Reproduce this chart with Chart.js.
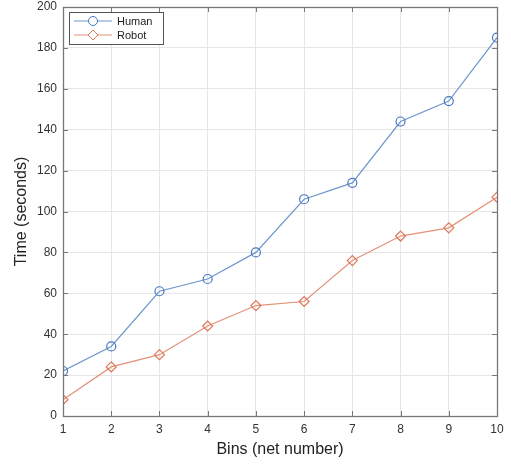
<!DOCTYPE html>
<html lang="en">
<head>
    <meta charset="UTF-8">
    <title>Human vs Robot time per bin</title>
    <script src="https://cdn.jsdelivr.net/npm/chart.js"></script>
    <style>
        body { margin: 0; background: #fff; }
        #wrap { width: 511px; height: 467px; }
    </style>
</head>
<body>
<div id="wrap"><canvas id="binsChart" width="511" height="467"></canvas></div>
<script>
    // data
    const bins = [1, 2, 3, 4, 5, 6, 7, 8, 9, 10];
    const humanTime = [22, 34, 61, 67, 80, 106, 114, 144, 154, 185];
    const robotTime = [8, 24, 30, 44, 54, 56, 76, 88, 92, 107];

    const blueLine = 'rgb(110, 150, 205)';
    const blueMark = 'rgb(70, 120, 195)';
    const orangeLine = 'rgb(228, 145, 120)';
    const orangeMark = 'rgb(222, 120, 90)';
    const axisColor = '#777';
    const font = '"Liberation Sans", Arial, sans-serif';

    // box round the axes, inward ticks and a MATLAB-style legend
    const matlabAxes = {
        id: 'matlabAxes',
        afterDraw(chart) {
            const { ctx, chartArea: a, scales: { x, y } } = chart;
            ctx.save();
            ctx.strokeStyle = axisColor;
            ctx.lineWidth = 1.3;
            ctx.strokeRect(a.left + 0.5, a.top + 0.5, a.right - a.left, a.bottom - a.top);
            const t = 5;
            ctx.lineWidth = 1;
            ctx.beginPath();
            x.ticks.forEach(tk => {
                const px = Math.round(x.getPixelForValue(tk.value)) + 0.5;
                ctx.moveTo(px, a.bottom); ctx.lineTo(px, a.bottom - t);
                ctx.moveTo(px, a.top); ctx.lineTo(px, a.top + t);
            });
            y.ticks.forEach(tk => {
                const py = Math.round(y.getPixelForValue(tk.value)) + 0.5;
                ctx.moveTo(a.left, py); ctx.lineTo(a.left + t, py);
                ctx.moveTo(a.right, py); ctx.lineTo(a.right - t, py);
            });
            ctx.stroke();

            // legend
            const lx = a.left + 6, ly = a.top + 5, lw = 94, lh = 32;
            ctx.fillStyle = '#fff';
            ctx.fillRect(lx, ly, lw, lh);
            ctx.strokeStyle = '#555';
            ctx.strokeRect(lx + 0.5, ly + 0.5, lw, lh);
            ctx.font = '11px ' + font;
            ctx.textBaseline = 'middle';
            chart.data.datasets.forEach((ds, i) => {
                const cy = ly + 9 + i * 14;
                ctx.strokeStyle = ds.borderColor;
                ctx.lineWidth = 1;
                ctx.beginPath();
                ctx.moveTo(lx + 5, cy); ctx.lineTo(lx + 43, cy);
                ctx.stroke();
                ctx.fillStyle = '#fff';
                ctx.strokeStyle = ds.pointBorderColor;
                Chart.helpers.drawPoint(ctx, {
                    pointStyle: ds.pointStyle, radius: ds.pointRadius, borderWidth: 1
                }, lx + 24, cy);
                ctx.fillStyle = '#222';
                ctx.fillText(ds.label, lx + 48, cy + 0.5);
            });
            ctx.restore();
        }
    };

    const ctx = document.getElementById('binsChart').getContext('2d');
    new Chart(ctx, {
        type: 'line',
        data: {
            datasets: [
                {
                    label: 'Human',
                    data: bins.map((b, i) => ({ x: b, y: humanTime[i] })),
                    borderColor: blueLine,
                    pointBorderColor: blueMark,
                    backgroundColor: 'rgba(0,0,0,0)',
                    borderWidth: 1.2,
                    pointStyle: 'circle',
                    pointRadius: 4.5,
                    pointBorderWidth: 1.2,
                    tension: 0
                },
                {
                    label: 'Robot',
                    data: bins.map((b, i) => ({ x: b, y: robotTime[i] })),
                    borderColor: orangeLine,
                    pointBorderColor: orangeMark,
                    backgroundColor: 'rgba(0,0,0,0)',
                    borderWidth: 1.2,
                    pointStyle: 'rectRot',
                    pointRadius: 5,
                    pointBorderWidth: 1.2,
                    tension: 0
                }
            ]
        },
        options: {
            responsive: false,
            animation: false,
            layout: { padding: { top: 7, right: 14, left: 12, bottom: 8 } },
            plugins: { legend: { display: false }, tooltip: { enabled: false } },
            scales: {
                x: {
                    type: 'linear',
                    min: 1, max: 10,
                    afterFit(s) { s.height = 43; s.paddingLeft = 0; s.paddingRight = 0; },
                    border: { display: false },
                    grid: { color: '#e6e6e6', drawTicks: false },
                    ticks: { stepSize: 1, padding: 6, color: '#333', font: { family: font, size: 12 } },
                    title: { display: true, text: 'Bins (net number)', color: '#222',
                             font: { family: font, size: 16 }, padding: { top: 2, bottom: 0 } }
                },
                y: {
                    min: 0, max: 200,
                    afterFit(s) { s.width = 51; s.paddingTop = 0; s.paddingBottom = 0; },
                    border: { display: false },
                    grid: { color: '#e6e6e6', drawTicks: false },
                    ticks: { stepSize: 20, padding: 6, color: '#333', font: { family: font, size: 12 } },
                    title: { display: true, text: 'Time (seconds)', color: '#222',
                             font: { family: font, size: 16 }, padding: { top: 0, bottom: 2 } }
                }
            }
        },
        plugins: [matlabAxes]
    });
</script>
</body>
</html>
